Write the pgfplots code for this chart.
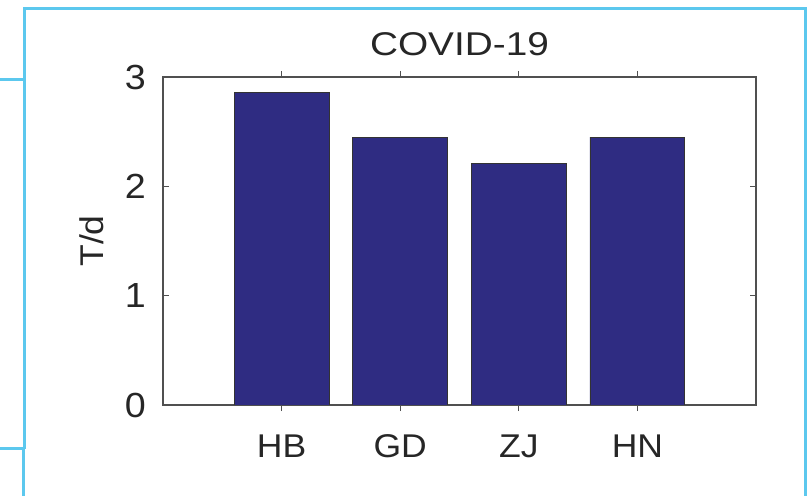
\documentclass[border=0pt]{standalone}
\usepackage{pgfplots}
\pgfplotsset{compat=1.18}
\usepackage{fontspec}
\setmainfont{Liberation Sans}
\newfontfamily\titlefont[FakeStretch=1.18]{Liberation Sans}
\newfontfamily\tickfont[FakeStretch=1.08]{Liberation Sans}
\definecolor{barblue}{RGB}{47,44,130}
\definecolor{frame}{RGB}{92,200,238}
\definecolor{txt}{RGB}{38,38,38}
\definecolor{axc}{RGB}{80,80,80}
\begin{document}
\begin{tikzpicture}
\path[use as bounding box] (0,0) rectangle (808bp,496bp);
\draw[frame, line width=3bp] (0,416bp) -- (24.5bp,416bp);
\draw[frame, line width=3bp] (0,47bp) -- (24.5bp,47bp);
\draw[frame, line width=3bp] (24.5bp,47bp) -- (24.5bp,487bp) -- (805bp,487bp) -- (805bp,0);
\draw[frame, line width=3bp] (23bp,47bp) -- (23bp,0);
\begin{axis}[
  at={(163bp,91bp)}, anchor=south west,
  scale only axis, width=593bp, height=328bp,
  xmin=0, xmax=5, ymin=0, ymax=3,
  xtick={1,2,3,4}, xticklabels={HB,GD,ZJ,HN},
  ytick={0,1,2,3},
  tick align=inside,
  major tick length=6bp,
  axis line style={axc, line width=1.4bp},
  tick style={axc, line width=1bp},
  /pgf/number format/assume math mode=true,
  ticklabel style={text=txt},
  xticklabel style={font=\tickfont\fontsize{33}{33}\selectfont, anchor=base, inner sep=0pt, yshift=-46bp},
  yticklabel style={font=\tickfont\fontsize{35}{35}\selectfont, anchor=east, inner sep=0pt, xshift=-17bp},
  title={COVID-19},
  title style={at={(axis description cs:0.5,1)}, anchor=base, inner sep=0pt, yshift=16bp, font=\titlefont\fontsize{33}{33}\selectfont, text=txt},
  ylabel={T/d},
  ylabel style={at={(axis description cs:0,0.5)}, anchor=center, inner sep=0pt, yshift=71bp, font=\tickfont\fontsize{33}{33}\selectfont, text=txt},
  ybar, bar width=0.8,
]
\addplot[fill=barblue, draw=black!80, line width=0.8bp] coordinates {(1,2.86) (2,2.45) (3,2.21) (4,2.45)};
\end{axis}
\end{tikzpicture}
\end{document}
